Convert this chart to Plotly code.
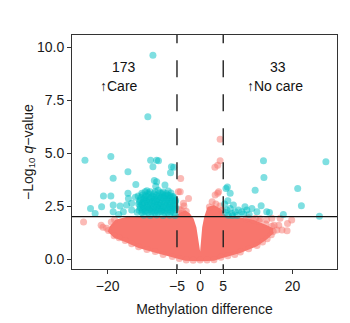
import plotly.graph_objects as go

# Significant, hypermethylated in care (left) and no-care (right) groups
care_x = [-10.2, -11.3, -24.9, -19.3, -10.7, -9.4, -9.0, -10.2, -5.7, -6.2, -6.4,
          -15.6, -18.8, -13.9, -9.4, -9.6, -9.9, -7.6,
          -20.9, -19.3, -15.6, -15.5, -13.4, -11.9, -9.7, -8.3, -7.0, -5.8,
          -22.7, -21.3, -23.7, -18.8, -17.3, -15.9, -18.8, -16.6, -14.8, -14.8, -14.0, -12.6, -17.6,
          -11.5, -10.8, -9.1, -8.0, -6.9,
          -11.2, -10.0, -8.7, -7.3, -6.3,
          -12.5, -11.8, -11.1, -10.3, -9.5, -8.8, -8.1, -7.5, -6.6, -6.0,
          -12.8, -12.0, -11.3, -10.6, -9.9, -9.2, -8.5, -7.8, -7.1, -6.4, -5.7,
          -13.0, -12.2, -11.6, -10.8, -10.0, -9.3, -8.6, -7.9, -7.2, -6.5, -5.8, -5.3,
          -13.1, -12.3, -11.6, -10.9, -10.2, -9.5, -8.8, -8.1, -7.4, -6.7, -6.0, -5.4,
          -13.3, -12.6, -11.9, -11.2, -10.4, -9.8, -9.1, -8.4, -7.7, -7.0, -6.3, -5.6,
          -13.0, -12.3, -11.5, -10.8, -10.1, -9.4, -8.7, -8.0, -7.3, -6.6, -5.9, -5.4,
          -12.9, -12.2, -11.5, -10.8, -10.1, -9.4, -8.7, -8.0, -7.3, -6.6, -5.9, -5.3,
          -13.2, -12.5, -11.8, -11.1, -10.4, -9.7, -9.0, -8.3, -7.6, -6.9, -6.2, -5.5,
          -13.6, -12.6, -11.9, -11.2, -10.5, -9.8, -9.1, -8.4, -7.7, -7.0, -6.3, -5.6,
          -12.2, -10.8, -9.4, -8.0, -6.6, -5.4]
care_q = [9.62, 6.71, 4.66, 4.84, 4.66, 4.66, 4.64, 4.35, 4.33, 4.36, 4.07,
          4.12, 3.81, 3.52, 3.65, 3.44, 3.70, 3.49,
          2.97, 2.97, 3.10, 2.86, 2.97, 3.17, 3.17, 3.10, 3.02, 2.94,
          2.15, 2.47, 2.39, 2.55, 2.50, 2.55, 2.23, 2.23, 2.31, 2.63, 2.91, 3.10, 2.10,
          3.22, 3.18, 3.24, 3.16, 3.21,
          3.11, 3.08, 3.13, 3.09, 3.12,
          3.02, 2.98, 3.05, 2.97, 3.01, 2.96, 3.03, 2.99, 3.00, 2.95,
          2.90, 2.88, 2.91, 2.89, 2.92, 2.87, 2.90, 2.91, 2.88, 2.90, 2.86,
          2.78, 2.82, 2.79, 2.83, 2.77, 2.81, 2.80, 2.84, 2.78, 2.82, 2.79, 2.76,
          2.70, 2.68, 2.71, 2.69, 2.72, 2.70, 2.67, 2.71, 2.70, 2.68, 2.71, 2.69,
          2.61, 2.58, 2.62, 2.59, 2.63, 2.60, 2.57, 2.61, 2.62, 2.58, 2.60, 2.59,
          2.50, 2.49, 2.52, 2.51, 2.48, 2.50, 2.52, 2.49, 2.51, 2.50, 2.48, 2.51,
          2.41, 2.38, 2.42, 2.39, 2.40, 2.43, 2.37, 2.41, 2.39, 2.42, 2.38, 2.40,
          2.30, 2.31, 2.29, 2.32, 2.30, 2.28, 2.31, 2.30, 2.29, 2.31, 2.30, 2.32,
          2.21, 2.19, 2.23, 2.20, 2.22, 2.18, 2.21, 2.24, 2.19, 2.20, 2.22, 2.18,
          2.07, 2.06, 2.08, 2.05, 2.07, 2.06]

nocare_x = [13.7, 27.2, 13.8, 21.1, 11.9, 5.6, 5.9, 6.5, 21.9, 13.2, 7.2, 8.3, 9.7,
            10.1, 11.2, 12.3, 14.4, 15.0, 18.0, 25.8, 6.5, 6.9, 7.6, 9.0, 5.8, 6.1,
            5.5, 8.0, 10.6, 5.3, 6.0, 7.0, 9.4]
nocare_q = [4.64, 4.59, 3.85, 3.33, 3.25, 3.33, 3.40, 3.10, 2.51, 2.51, 2.55, 2.31, 2.47,
            2.31, 2.39, 2.23, 2.23, 2.20, 2.10, 2.02, 2.39, 2.15, 2.23, 2.23, 2.31, 2.07,
            2.20, 2.05, 2.10, 2.60, 2.75, 2.05, 2.12]

# Non-significant sites that sit apart from the main cloud
other_x = [4.33, 4.33, 3.8, 3.2, 3.8, 3.25, 4.0, 2.6, 3.4, 4.3, 2.0, 4.8,
           -4.3, -4.2, -2.5, -3.5, -4.5, -3.0, -4.0, -4.7, -3.6, -4.1,
           -25.2, -21.4, -21.0, -19.8, -19.2, -18.5, -20.2,
           14.4, 15.5, 17.3, 18.9, 17.7, 18.8, 19.8, 16.6, 13.0, 12.0, 10.5, 16.0, 17.0,
           -18.6, -17.5, -16.2, -14.8, -13.3, -11.5, -9.7, -8.0, -6.0, -4.5, -3.0, -1.5,
           0.0, 1.5, 3.0, 4.5, 6.0, 7.5, 8.7, 10.5, 12.3, 13.5, 14.5, 15.4, 15.8,
           15.5, 14.2, 12.8, 11.5, 10.0]
other_q = [5.65, 4.64, 4.43, 4.33, 3.10, 3.02, 3.17, 2.70, 2.60, 2.50, 2.45, 2.30,
           3.17, 3.80, 2.86, 2.50, 2.35, 2.25, 2.15, 3.17, 2.63, 2.31,
           1.75, 1.60, 1.50, 1.35, 1.75, 1.85, 1.45,
           1.84, 1.92, 1.92, 1.68, 1.37, 1.34, 1.84, 1.37, 1.90, 1.92, 1.95, 1.60, 1.60,
           1.10, 1.00, 0.88, 0.72, 0.58, 0.45, 0.35, 0.22, 0.12, 0.02, -0.04, -0.06,
           -0.05, -0.05, -0.03, 0.08, 0.15, 0.22, 0.33, 0.48, 0.64, 0.80, 0.96, 1.15, 1.30,
           1.55, 1.65, 1.78, 1.85, 1.90]

# Outline of the dense body of non-significant sites
cloud_x = [0.0, -0.4, -0.8, -1.4, -2.2, -3.2, -4.3, -5.3, -8.0, -12.0, -16.0, -18.3,
           -19.5, -20.0, -18.6, -16.2, -13.3, -9.7, -6.0, -3.2, 0.0, 3.0, 4.5, 8.7,
           12.3, 14.4, 15.9, 15.8, 14.2, 11.5, 8.0, 5.5, 4.6, 3.0, 1.6, 0.9, 0.45, 0.15, 0.0]
cloud_q = [0.35, 1.0, 1.5, 1.9, 2.15, 2.3, 2.2, 2.05, 2.0, 2.0, 1.98, 1.85,
           1.55, 1.3, 1.0, 0.8, 0.52, 0.3, 0.08, -0.08, -0.1, -0.08, 0.03, 0.28,
           0.6, 0.92, 1.22, 1.45, 1.62, 1.85, 1.98, 2.05, 2.35, 2.55, 2.45, 2.0, 1.5, 0.8, 0.35]

q_cut = 2.0
diff_cut = 5
x_ticks = [-20, -5, 0, 5, 20]
x_labels = ["\u221220", "\u22125", "0", "5", "20"]
y_ticks = [0, 2.5, 5, 7.5, 10]
y_labels = ["0.0", "2.5", "5.0", "7.5", "10.0"]

RED = "#F8766D"
CYAN = "#00BFC4"
FONT = "Liberation Sans, Arial, sans-serif"
INK = "#111111"

fig = go.Figure()
fig.add_trace(go.Scatter(x=cloud_x, y=cloud_q, mode="lines", fill="toself",
                         fillcolor=RED, line=dict(width=0, color=RED),
                         hoverinfo="skip", showlegend=False))
fig.add_trace(go.Scatter(x=other_x, y=other_q, mode="markers",
                         marker=dict(size=7, color=RED, opacity=0.5, line=dict(width=0)),
                         showlegend=False))
fig.add_trace(go.Scatter(x=care_x + nocare_x, y=care_q + nocare_q, mode="markers",
                         marker=dict(size=7, color=CYAN, opacity=0.5, line=dict(width=0)),
                         showlegend=False))

# Threshold lines
for xv in (-diff_cut, diff_cut):
    fig.add_trace(go.Scatter(x=[xv, xv], y=[10.98, -1.5], mode="lines",
                             line=dict(color="#222222", width=1.4, dash="17px,17px"),
                             hoverinfo="skip", showlegend=False))
fig.add_trace(go.Scatter(x=[-40, 40], y=[q_cut, q_cut], mode="lines",
                         line=dict(color=INK, width=1.1),
                         hoverinfo="skip", showlegend=False))

fig.add_annotation(x=-16.5, y=9.07, text="173", showarrow=False,
                   font=dict(size=14, color=INK, family=FONT))
fig.add_annotation(x=-17.5, y=8.16, text="<b>\u2191</b>Care", showarrow=False,
                   font=dict(size=14, color=INK, family=FONT))
fig.add_annotation(x=16.9, y=9.07, text="33", showarrow=False,
                   font=dict(size=14, color=INK, family=FONT))
fig.add_annotation(x=16.2, y=8.16, text="<b>\u2191</b>No care", showarrow=False,
                   font=dict(size=14, color=INK, family=FONT))

axis_common = dict(showgrid=False, zeroline=False, showline=True, mirror=True,
                   linecolor="#333333", linewidth=1, ticks="outside", ticklen=4,
                   tickcolor="#333333", tickwidth=1, automargin=False,
                   tickfont=dict(size=14, color="#1a1a1a", family=FONT))

fig.update_layout(
    width=350, height=323,
    margin=dict(l=72, r=13, t=35, b=54),
    paper_bgcolor="white", plot_bgcolor="white",
    font=dict(family=FONT, color="#1a1a1a"),
    xaxis=dict(range=[-27.7, 29.6], tickvals=x_ticks, ticktext=x_labels,
               title=dict(text="Methylation difference", font=dict(size=14), standoff=11),
               **axis_common),
    yaxis=dict(range=[-0.47, 10.57], tickvals=y_ticks, ticktext=y_labels,
               title=dict(text="\u2212Log<sub>10</sub> <i>q</i>\u2212value",
                          font=dict(size=14), standoff=0),
               **axis_common),
)

fig.write_html("out.html")
